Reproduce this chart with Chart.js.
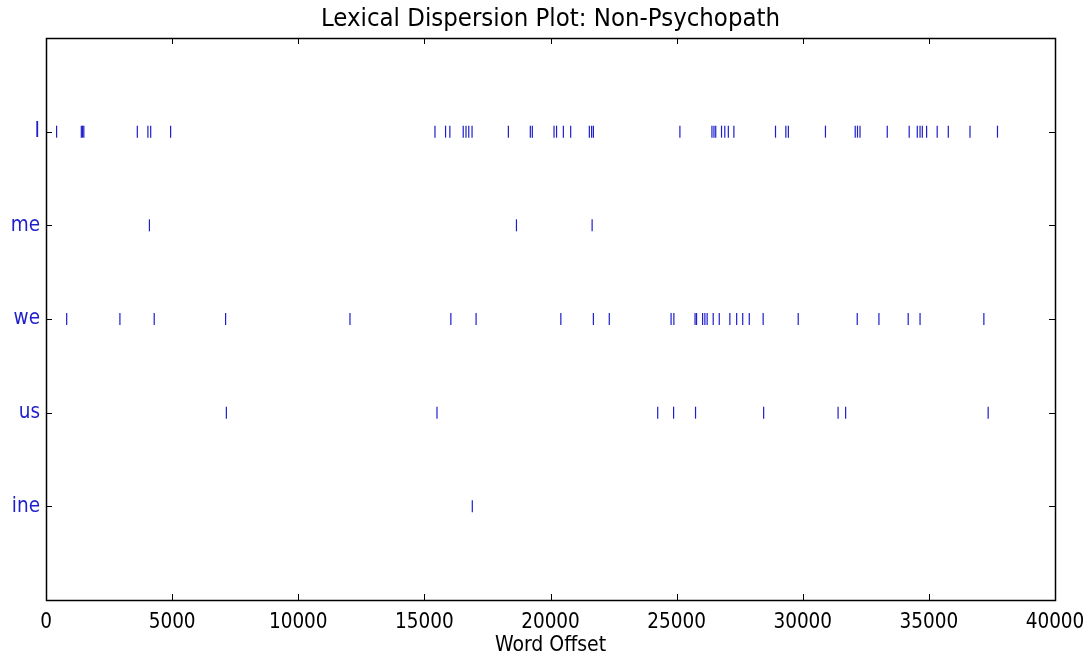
<!DOCTYPE html>
<html>
<head>
<meta charset="utf-8">
<title>Lexical Dispersion Plot</title>
<script src="https://cdn.jsdelivr.net/npm/chart.js@4/dist/chart.umd.min.js"></script>
<style>
  html, body { margin: 0; padding: 0; background: #fff; }
  #wrap { width: 1088px; height: 658px; position: relative; }
</style>
</head>
<body>
<div id="wrap"><canvas id="dispersion"></canvas></div>
<script>
// words in top-to-bottom order
const words = ['I', 'me', 'we', 'us', 'ine'];

// word offsets where each word occurs
const iOffsets = [420, 1400, 1450, 1500, 3620, 4040, 4150, 4940,
  15420, 15840, 16010, 16540, 16650, 16760, 16890, 18330, 19200, 19280,
  20140, 20240, 20510, 20800, 21540, 21630, 21700, 25130,
  26400, 26480, 26550, 26780, 26910, 27050, 27270, 28920, 29330, 29430,
  30900, 32080, 32170, 32270, 33350, 34220, 34540, 34650, 34740, 34910,
  35330, 35770, 36630, 37720];
const meOffsets = [4100, 18650, 21650];
const weOffsets = [820, 2930, 4290, 7120, 12050, 16050, 17050, 20410, 21700,
  22330, 24780, 24890, 25730, 25790, 26030, 26120, 26210, 26450, 26690,
  27110, 27380, 27620, 27880, 28430, 29820, 32160, 33020, 34180, 34650, 37180];
const usOffsets = [7150, 15500, 24250, 24880, 25750, 28450, 31400, 31700, 37350];
const ineOffsets = [16900];

const xTickStep = 5000;
const xMax = 40000;
const chartTitle = 'Lexical Dispersion Plot: Non-Psychopath';

const offsetsByWord = [iOffsets, meOffsets, weOffsets, usOffsets, ineOffsets];
const markColor = 'rgb(30, 30, 205)';
const fontFamily = "'DejaVu Sans Condensed', 'DejaVu Sans', sans-serif";

// row position: first word at the top
function rowOf(i) { return words.length - 1 - i; }

const datasets = offsetsByWord.map((offsets, i) => ({
  label: words[i],
  data: offsets.map(v => ({ x: v, y: rowOf(i) })),
  pointStyle: 'line',
  rotation: 90,
  radius: 6,
  borderWidth: 1.2,
  borderColor: markColor,
  backgroundColor: markColor
}));

// frame, inward ticks on all four sides, and a title centred over the axes
const frameTicks = {
  id: 'frameTicks',
  afterDraw(chart) {
    const { ctx, chartArea: a, scales } = chart;
    const len = 6;
    ctx.save();
    ctx.strokeStyle = '#000';
    ctx.lineWidth = 1;
    ctx.beginPath();
    scales.x.ticks.forEach(t => {
      const px = Math.round(scales.x.getPixelForValue(t.value)) + 0.5;
      ctx.moveTo(px, a.bottom); ctx.lineTo(px, a.bottom - len);
      ctx.moveTo(px, a.top); ctx.lineTo(px, a.top + len);
    });
    scales.y.ticks.forEach(t => {
      const py = Math.round(scales.y.getPixelForValue(t.value)) + 0.5;
      ctx.moveTo(a.left, py); ctx.lineTo(a.left + len, py);
      ctx.moveTo(a.right, py); ctx.lineTo(a.right - len, py);
    });
    ctx.stroke();
    ctx.lineWidth = 1.5;
    ctx.strokeRect(Math.round(a.left) + 0.5, Math.round(a.top) + 0.5,
      Math.round(a.right - a.left), Math.round(a.bottom - a.top));

    ctx.fillStyle = '#000';
    ctx.font = '25.5px ' + fontFamily;
    ctx.textAlign = 'center';
    ctx.textBaseline = 'middle';
    ctx.fillText(chartTitle, (a.left + a.right) / 2, a.top - 19);
    ctx.restore();
  }
};

new Chart(document.getElementById('dispersion'), {
  type: 'scatter',
  data: { datasets },
  options: {
    responsive: true,
    maintainAspectRatio: false,
    animation: false,
    layout: { padding: { top: 38, right: 33, bottom: 0, left: 0 } },
    plugins: {
      legend: { display: false },
      tooltip: { enabled: false },
      title: { display: false }
    },
    scales: {
      x: {
        type: 'linear',
        min: 0,
        max: xMax,
        grid: { display: false, drawTicks: false },
        border: { display: false },
        ticks: {
          stepSize: xTickStep,
          maxRotation: 0,
          autoSkip: false,
          padding: 10,
          color: '#000',
          font: { family: fontFamily, size: 20.5 },
          callback: v => String(v)
        },
        title: {
          display: true,
          text: 'Word Offset',
          color: '#000',
          font: { family: fontFamily, size: 21 },
          padding: { top: 2, bottom: 0 }
        },
        afterFit(scale) {
          scale.height = 58;
          scale.paddingLeft = 0;
          scale.paddingRight = 0;
        }
      },
      y: {
        type: 'linear',
        min: -1,
        max: words.length,
        grid: { display: false, drawTicks: false },
        border: { display: false },
        afterBuildTicks(scale) {
          scale.ticks = words.map((w, i) => ({ value: rowOf(i) }));
        },
        ticks: {
          padding: 6,
          color: markColor,
          font: { family: fontFamily, size: 20.5 },
          callback: v => words[rowOf(v)]
        },
        afterFit(scale) { scale.width = 46; }
      }
    }
  },
  plugins: [frameTicks]
});
</script>
</body>
</html>
